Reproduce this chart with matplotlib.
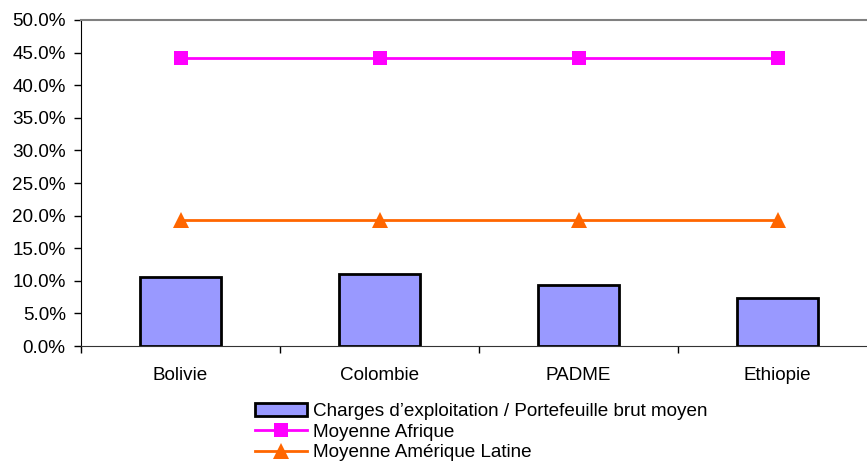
import matplotlib
matplotlib.use("Agg")
import matplotlib.pyplot as plt
from matplotlib.ticker import FuncFormatter, MultipleLocator
import numpy as np

plt.rcParams['font.family'] = ['Liberation Sans', 'DejaVu Sans']

categories = ["Bolivie", "Colombie", "PADME", "Ethiopie"]
charges_ratio = [10.6, 11.0, 9.35, 7.4]
moyenne_afrique = [44.2, 44.2, 44.2, 44.2]
moyenne_amerique_latine = [19.4, 19.4, 19.4, 19.4]

label_bars = "Charges d\u2019exploitation / Portefeuille brut moyen"
label_afr = "Moyenne Afrique"
label_lat = "Moyenne Am\u00e9rique Latine"

FS = 13.6

W, H = 867, 461
fig = plt.figure(figsize=(W / 100, H / 100), dpi=100)
left, right, top, bottom = 81, 877, 20, 346
ax = fig.add_axes([left / W, (H - bottom) / H, (right - left) / W, (bottom - top) / H])

x = np.arange(len(categories))
bars = ax.bar(x, charges_ratio, width=0.405, color="#9999FF", edgecolor="black",
              linewidth=2, label=label_bars, zorder=2)
afr, = ax.plot(x, moyenne_afrique, color="#FF00FF", linewidth=2, marker="s",
               markersize=9.5, markeredgewidth=0, label=label_afr, zorder=3)
lat, = ax.plot(x, moyenne_amerique_latine, color="#FF6600", linewidth=2, marker="^",
               markersize=11, markeredgewidth=0, label=label_lat, zorder=3)

ax.set_xlim(-0.5, len(categories) - 0.5)
ax.set_ylim(0, 50)
ax.yaxis.set_major_locator(MultipleLocator(5))
ax.yaxis.set_major_formatter(FuncFormatter(lambda v, p: f"{v:.1f}%"))

ax.set_xticks(x)
ax.set_xticklabels(categories)
ax.set_xticks(np.arange(-0.5, len(categories) + 0.5, 1), minor=True)
ax.tick_params(axis="x", which="major", length=0, pad=15, labelsize=FS)
ax.tick_params(axis="x", which="minor", length=5, width=1, direction="out", color="black")
ax.tick_params(axis="y", length=5, width=1, direction="out", pad=6, labelsize=FS, color="black")

ax.spines["left"].set_color("black")
ax.spines["bottom"].set_color("#333333")
ax.spines["top"].set_color("#808080")
ax.spines["top"].set_linewidth(1.5)
ax.spines["right"].set_visible(False)

fig.legend([bars, afr, lat], [label_bars, label_afr, label_lat],
           loc="upper left", bbox_to_anchor=(255 / W, 1 - 403 / H),
           frameon=False, fontsize=FS, handlelength=2.75, handletextpad=0.3,
           labelspacing=0.18, borderpad=0, borderaxespad=0)

fig.savefig("out.png", dpi=100)
